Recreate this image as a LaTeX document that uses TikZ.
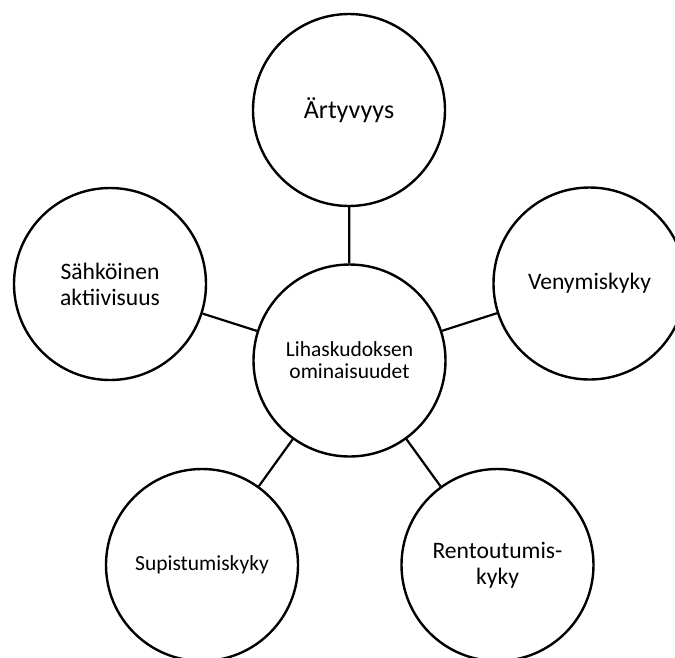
\documentclass[tikz,border=0pt]{standalone}
\usepackage{fontspec}
\setmainfont{Carlito}
\tikzset{
  kreis/.style={circle,draw,line width=2.4pt,minimum size=192pt,inner sep=0pt,
    align=center,font=\fontsize{23.6}{26}\selectfont},
  klein/.style={font=\fontsize{21.5}{22}\selectfont},
  gross/.style={font=\fontsize{26}{28}\selectfont},
  linie/.style={line width=2.2pt}
}
\begin{document}
\begin{tikzpicture}[x=1pt,y=-1pt]
    % Rahmen
    \useasboundingbox (0,0) rectangle (675,657);
    % Kreise
    \node[kreis,gross] (aert) at (349,110) {Ärtyvyys};
    \node[kreis,klein] (mitte) at (349.5,360.5) {Lihaskudoksen\\ominaisuudet};
    \node[kreis] (saehk) at (110,284) {Sähköinen\\aktiivisuus};
    \node[kreis] (veny) at (589.5,283.5) {Venymiskyky};
    \node[kreis,klein] (supi) at (202,565) {Supistumiskyky};
    \node[kreis] (rento) at (497.5,565) {Rentoutumis-\\kyky};
    % Linien
    \foreach \n in {aert,saehk,veny,supi,rento}
      \draw[linie] (mitte) -- (\n);
  \end{tikzpicture}
\end{document}
